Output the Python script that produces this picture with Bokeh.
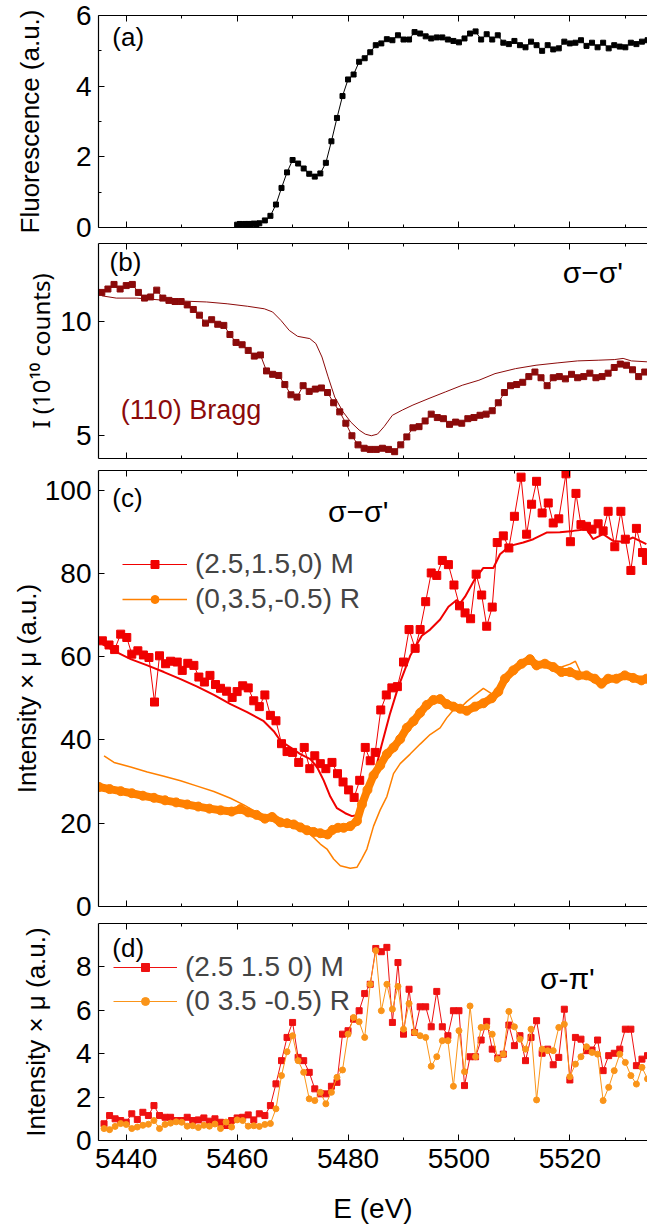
from bokeh.plotting import figure
from bokeh.layouts import column
from bokeh.models import Range1d, LinearAxis, Label, Legend, LegendItem, FixedTicker
from bokeh.embed import file_html
from bokeh.resources import INLINE

FONT = "Liberation Sans"

# ---------------- data ----------------
X_MAJOR = [5440, 5460, 5480, 5500, 5520]
X_MINOR = [5450, 5470, 5490, 5510, 5530]

# (a) fluorescence
A_E = [5460, 5460.5, 5461, 5461.5, 5462, 5462.5, 5463, 5463.5, 5464, 5465, 5466, 5467, 5468, 5469,
       5470, 5471, 5472, 5473, 5474, 5475, 5476, 5477, 5478, 5479, 5480, 5481, 5482, 5483, 5484,
       5485, 5486, 5487, 5488, 5489, 5490, 5491, 5492, 5493, 5494, 5495, 5496, 5497, 5498, 5499,
       5500, 5501, 5502, 5503, 5504, 5505, 5506, 5507, 5508, 5509, 5510, 5511, 5512, 5513, 5514,
       5515, 5516, 5517, 5518, 5519, 5520, 5521, 5522, 5523, 5524, 5525, 5526, 5527, 5528, 5529,
       5530, 5531, 5532, 5533, 5534]
A_F = [0.08, 0.10, 0.09, 0.10, 0.10, 0.10, 0.11, 0.10, 0.12, 0.20, 0.33, 0.65, 1.12, 1.56,
       1.91, 1.81, 1.67, 1.52, 1.44, 1.53, 1.83, 2.44, 3.10, 3.72, 4.19, 4.33, 4.69, 4.79, 4.96,
       5.16, 5.21, 5.33, 5.30, 5.44, 5.32, 5.32, 5.53, 5.49, 5.41, 5.35, 5.38, 5.38, 5.32, 5.28,
       5.24, 5.35, 5.49, 5.55, 5.32, 5.47, 5.32, 5.44, 5.23, 5.19, 5.28, 5.16, 5.10, 5.26, 5.16,
       5.00, 5.16, 5.04, 5.07, 5.26, 5.21, 5.23, 5.30, 5.14, 5.23, 5.10, 5.23, 5.07, 5.16, 5.12,
       5.10, 5.23, 5.19, 5.26, 5.30]

# (b) (110) Bragg, sigma-sigma'
B_E = [5435.6, 5436.7, 5437.8, 5438.9, 5440.0, 5441.1, 5442.2, 5443.3, 5444.4, 5445.5, 5446.6,
       5447.7, 5448.8, 5449.9, 5451.0, 5452.1, 5453.2, 5454.3, 5455.4, 5456.5, 5457.6, 5458.7,
       5459.8, 5460.9, 5462.0, 5463.1, 5464.2, 5465.3, 5466.4, 5467.5, 5468.6, 5469.7, 5470.8,
       5471.9, 5473.0, 5474.1, 5475.2, 5476.3, 5477.4, 5478.5, 5479.6, 5480.7, 5481.8, 5482.9,
       5484.0, 5485.1, 5486.2, 5487.3, 5488.4, 5489.5, 5490.6, 5491.7, 5492.8, 5493.9, 5495.0,
       5496.1, 5497.2, 5498.3, 5499.4, 5500.5, 5501.6, 5502.7, 5503.8, 5504.9, 5506.0, 5507.1,
       5508.2, 5509.3, 5510.4, 5511.5, 5512.6, 5513.7, 5514.8, 5515.9, 5517.0, 5518.1, 5519.2,
       5520.3, 5521.4, 5522.5, 5523.6, 5524.7, 5525.8, 5526.9, 5528.0, 5529.1, 5530.2, 5531.3,
       5532.4, 5533.5]
B_I = [11.30, 11.45, 11.65, 11.45, 11.60, 11.65, 11.30, 11.05, 11.10, 11.40, 11.05,
       10.95, 10.90, 10.90, 10.75, 10.55, 10.30, 9.95, 10.10, 9.90, 9.85, 9.45,
       9.10, 9.00, 8.75, 8.50, 8.55, 7.85, 7.70, 7.65, 7.25, 6.80, 6.70,
       7.20, 6.95, 7.05, 7.10, 6.90, 6.45, 6.05, 5.55, 5.00, 4.60, 4.45,
       4.40, 4.40, 4.45, 4.40, 4.30, 4.60, 4.95, 5.35, 5.40, 5.65, 5.95,
       5.80, 5.75, 5.50, 5.60, 5.55, 5.75, 5.80, 5.90, 5.95, 6.10, 6.45,
       6.90, 7.20, 7.25, 7.35, 7.60, 7.80, 7.55, 7.20, 7.55, 7.60, 7.50,
       7.70, 7.55, 7.60, 7.75, 7.55, 7.60, 7.75, 8.00, 8.15, 8.10, 7.90,
       7.60, 7.80]
B_SIM_E = [5435.6, 5438.2, 5441.9, 5447.1, 5454.5, 5458.2, 5461.9, 5464.9, 5466.4, 5467.9, 5469.4,
           5470.9, 5473.1, 5474.2, 5475.3, 5476.4, 5477.6, 5479.1, 5480.5, 5482.0, 5483.1, 5484.2,
           5485.3, 5486.5, 5488.0, 5489.8, 5491.7, 5494.6, 5497.6, 5500.6, 5503.6, 5506.5, 5510.2,
           5513.9, 5517.7, 5521.4, 5525.1, 5528.1, 5529.6, 5531.1, 5533.9]
B_SIM_I = [11.15, 11.05, 11.05, 10.95, 10.88, 10.80, 10.69, 10.58, 10.44, 10.07, 9.63,
           9.37, 9.27, 9.05, 8.46, 7.59, 6.70, 6.05, 5.60, 5.25, 5.07, 5.00,
           5.07, 5.40, 5.90, 6.13, 6.35, 6.64, 6.93, 7.22, 7.44, 7.73, 7.95,
           8.10, 8.20, 8.29, 8.32, 8.35, 8.40, 8.29, 8.25]

# (c) sigma-sigma', (2.5,1.5,0) M
C_M_E = [5435.7, 5436.9, 5437.9, 5439.0, 5440.1, 5441.0, 5442.1, 5443.1, 5444.1, 5445.1, 5446.0,
         5447.1, 5448.0, 5449.2, 5450.1, 5451.1, 5452.2, 5453.1, 5454.1, 5455.1, 5456.1, 5457.0,
         5458.1, 5459.1, 5460.0, 5461.0, 5462.0, 5463.0, 5464.0, 5465.0, 5466.0, 5467.0, 5468.0,
         5469.0, 5470.0, 5471.1, 5472.1, 5473.1, 5474.0, 5475.0, 5476.0, 5477.1, 5478.1, 5479.1,
         5480.1, 5481.1, 5482.1, 5483.1, 5484.0, 5484.9, 5485.9, 5486.9, 5487.9, 5488.9, 5490.0,
         5491.0, 5492.1, 5493.0, 5494.0, 5495.0, 5496.0, 5497.0, 5498.1, 5499.1, 5500.1, 5501.1,
         5502.1, 5503.1, 5504.1, 5505.0, 5506.0, 5506.9, 5508.0, 5509.0, 5510.0, 5511.2, 5512.2,
         5513.1, 5514.0, 5515.0, 5516.1, 5517.0, 5518.0, 5519.3, 5520.1, 5521.1, 5522.0, 5523.0,
         5524.0, 5525.1, 5526.0, 5526.9, 5528.1, 5529.2, 5530.0, 5531.0, 5532.0, 5533.1, 5533.8]
C_M_I = [63.8, 62.8, 61.7, 65.4, 64.6, 60.6, 61.4, 60.4, 59.8, 49.1, 60.2,
         58.3, 58.9, 58.7, 56.7, 58.4, 57.9, 55.1, 53.9, 55.5, 53.3, 52.4,
         51.7, 50.2, 51.6, 53.0, 52.5, 49.4, 48.0, 50.8, 45.9, 44.6, 39.1,
         37.2, 37.0, 34.6, 38.2, 33.1, 36.2, 34.3, 33.1, 34.6, 31.9, 29.9,
         28.0, 26.2, 30.3, 38.2, 35.0, 37.0, 47.2, 50.8, 52.5, 52.8, 58.7,
         66.5, 62.0, 66.5, 73.2, 80.1, 79.5, 83.1, 82.1, 77.2, 72.2, 70.5,
         69.1, 79.8, 74.8, 67.3, 71.9, 87.4, 89.0, 86.1, 93.7, 103.1, 89.4,
         96.6, 102.1, 94.5, 96.9, 92.1, 93.1, 103.9, 87.6, 99.2, 91.7, 91.3,
         90.6, 91.9, 90.2, 94.9, 86.4, 94.9, 88.2, 80.7, 90.8, 85.0, 83.1]
C_MSIM_E = [5435.7, 5437.8, 5440.8, 5443.8, 5446.8, 5449.8, 5452.8, 5455.8, 5458.8, 5461.8, 5464.8,
            5466.6, 5467.8, 5469.6, 5471.4, 5473.2, 5474.4, 5475.6, 5476.8, 5478.0, 5479.5, 5480.7,
            5481.5, 5483.0, 5484.5, 5486.0, 5487.5, 5489.0, 5491.2, 5493.3, 5494.8, 5496.6, 5498.1,
            5499.6, 5500.2, 5501.1, 5502.9, 5504.4, 5506.2, 5507.4, 5509.2, 5511.6, 5513.4, 5515.8,
            5518.2, 5520.6, 5523.0, 5524.2, 5526.0, 5527.8, 5529.6, 5531.4, 5533.8]
C_MSIM_I = [63.0, 61.4, 59.4, 57.9, 56.3, 54.6, 52.8, 50.8, 48.6, 46.7, 44.5,
            42.1, 39.8, 38.2, 36.6, 35.4, 33.5, 30.3, 26.4, 23.6, 22.4, 21.7,
            21.9, 24.5, 30.5, 38.5, 46.0, 52.5, 60.2, 65.0, 66.5, 68.9, 72.0,
            73.6, 72.8, 74.4, 78.7, 81.3, 81.3, 84.6, 86.6, 87.4, 88.2, 89.8,
            89.9, 90.2, 90.6, 88.2, 89.4, 87.8, 87.6, 88.6, 87.0]
# (c) sigma-sigma', (0,3.5,-0.5) R
C_R_E = [5435.1, 5437.0, 5439.0, 5441.0, 5443.0, 5445.0, 5447.0, 5449.0, 5451.0, 5453.0, 5455.0,
         5457.0, 5459.0, 5460.6, 5462.0, 5463.5, 5465.0, 5466.3, 5467.8, 5469.0, 5470.2, 5471.4,
         5472.6, 5473.8, 5475.0, 5476.3, 5477.2, 5478.2, 5479.2, 5480.4, 5481.6, 5482.5, 5483.5,
         5484.6, 5485.8, 5487.0, 5488.2, 5489.4, 5490.6, 5491.8, 5493.0, 5494.2, 5495.4, 5496.6,
         5497.8, 5499.0, 5500.2, 5501.4, 5502.9, 5504.4, 5505.9, 5507.1, 5508.3, 5509.8, 5511.3,
         5512.8, 5514.0, 5515.5, 5517.0, 5518.5, 5520.0, 5521.5, 5523.0, 5524.5, 5525.7, 5526.9,
         5528.4, 5529.9, 5531.4, 5532.9, 5533.8]
C_R_I = [28.7, 28.2, 27.7, 27.2, 26.6, 26.1, 25.5, 25.0, 24.5, 24.0, 23.5,
         23.1, 22.8, 23.4, 22.6, 22.0, 21.1, 21.5, 20.2, 20.0, 19.7, 19.0,
         18.3, 17.9, 17.6, 17.3, 18.4, 18.9, 18.9, 19.3, 20.5, 24.5, 28.0,
         31.5, 33.9, 36.6, 38.2, 40.2, 42.9, 44.5, 46.5, 48.4, 49.6, 49.8,
         48.6, 48.0, 47.5, 47.0, 48.0, 48.8, 50.0, 51.6, 54.7, 56.7, 58.3,
         59.4, 57.9, 58.3, 57.5, 56.3, 56.3, 55.5, 55.5, 54.7, 53.5, 54.7,
         54.7, 55.5, 54.9, 54.3, 54.7]
C_RSIM_E = [5436.0, 5437.8, 5440.8, 5443.8, 5446.8, 5449.8, 5452.8, 5455.8, 5458.8, 5461.2, 5463.0,
            5465.4, 5469.0, 5472.6, 5475.0, 5476.2, 5477.4, 5478.6, 5480.4, 5481.6, 5482.5, 5483.4,
            5484.6, 5485.8, 5487.0, 5488.2, 5489.4, 5491.2, 5493.0, 5494.8, 5496.6, 5497.8, 5499.0,
            5500.2, 5501.4, 5502.9, 5504.4, 5506.0, 5507.5, 5509.0, 5511.0, 5512.8, 5514.5, 5516.5,
            5518.5, 5520.0, 5521.0, 5522.0, 5524.0, 5526.0, 5528.0, 5530.0, 5532.0, 5533.8]
C_RSIM_I = [36.2, 34.6, 33.5, 32.3, 31.3, 30.2, 28.9, 27.6, 26.0, 24.4, 23.0,
            21.3, 19.7, 18.1, 15.0, 13.8, 11.4, 9.8, 9.2, 9.4, 11.5, 13.8,
            19.3, 23.2, 26.4, 31.9, 34.3, 36.6, 39.0, 41.3, 42.9, 45.3, 47.2,
            47.6, 49.2, 50.8, 52.4, 51.0, 52.5, 55.5, 57.8, 59.2, 58.0, 57.8,
            57.5, 58.2, 58.9, 56.0, 55.0, 54.0, 55.0, 55.5, 54.8, 55.0]

# (d) sigma-pi'
D_E = [5436, 5437, 5438, 5439, 5440, 5441, 5442, 5443, 5444, 5445, 5446, 5447, 5448, 5449,
       5450, 5451, 5452, 5453, 5454, 5455, 5456, 5457, 5458, 5459, 5460, 5461, 5462, 5463,
       5464, 5465, 5466, 5467, 5468, 5469, 5470, 5471, 5472, 5473, 5474, 5475, 5476, 5477,
       5478, 5479, 5480, 5481, 5482, 5483, 5484, 5485, 5486, 5487, 5488, 5489, 5490, 5491,
       5492, 5493, 5494, 5495, 5496, 5497, 5498, 5499, 5500, 5501, 5502, 5503, 5504, 5505,
       5506, 5507, 5508, 5509, 5510, 5511, 5512, 5513, 5514, 5515, 5516, 5517, 5518, 5519,
       5520, 5521, 5522, 5523, 5524, 5525, 5526, 5527, 5528, 5529, 5530, 5531, 5532, 5533, 5534]
D_M = [0.77, 1.15, 1.00, 0.92, 0.84, 1.23, 0.97, 1.30, 1.15, 1.61, 1.15, 1.07, 1.07, 0.92,
       0.92, 1.07, 0.92, 0.95, 1.04, 0.89, 1.00, 0.84, 0.69, 0.92, 1.04, 1.07, 1.18, 0.95,
       1.23, 1.15, 1.61, 2.61, 3.68, 4.75, 5.44, 3.83, 3.68, 3.14, 2.38, 2.15, 2.15, 2.50,
       2.68, 4.90, 5.06, 5.59, 5.98, 6.77, 7.20, 8.85, 8.70, 8.90, 5.44, 8.20, 4.90, 6.97,
       4.98, 6.16, 6.16, 5.24, 6.87, 5.24, 4.83, 5.98, 5.98, 2.53, 3.86, 3.86, 4.63, 5.49,
       4.21, 3.80, 3.98, 5.32, 4.37, 4.83, 3.68, 4.75, 5.52, 4.02, 4.21, 3.49, 3.83, 6.05,
       2.79, 4.75, 4.67, 4.14, 4.17, 4.63, 3.22, 3.91, 4.02, 4.21, 5.13, 5.13, 3.45, 3.75, 3.91]
D_R = [0.55, 0.50, 0.65, 0.78, 0.74, 0.55, 0.62, 0.70, 0.75, 0.92, 0.55, 0.74, 0.80, 0.86,
       0.84, 0.66, 0.68, 0.60, 0.70, 0.66, 0.76, 0.55, 0.85, 0.62, 0.95, 0.92, 0.66, 0.68,
       0.65, 0.74, 0.78, 1.46, 2.99, 4.09, 4.83, 3.68, 3.14, 1.92, 1.84, 2.22, 1.69, 2.22,
       2.91, 3.25, 4.90, 5.67, 5.47, 4.75, 7.20, 8.75, 5.98, 7.20, 6.05, 7.10, 5.13, 6.31,
       4.98, 4.83, 4.75, 3.42, 3.86, 4.60, 4.60, 2.50, 5.06, 3.17, 6.20, 3.86, 5.21, 5.24,
       4.90, 3.75, 3.98, 5.95, 5.24, 4.67, 4.21, 5.13, 1.87, 4.21, 4.14, 4.14, 5.21, 5.36,
       2.94, 3.52, 3.86, 4.32, 4.06, 3.98, 1.84, 2.45, 3.22, 3.98, 3.60, 2.99, 2.60, 3.37, 2.84]

# ---------------- styling helpers ----------------
W = 647


def style_axis(ax, show_labels, size="28px", standoff=7):
    ax.axis_line_color = "black"
    ax.axis_line_width = 1.2
    ax.major_tick_in = 6
    ax.major_tick_out = 0
    ax.minor_tick_in = 3
    ax.minor_tick_out = 0
    ax.major_tick_line_color = "black"
    ax.minor_tick_line_color = "black"
    ax.major_label_text_font = FONT
    if show_labels:
        ax.major_label_text_color = "black"
        ax.major_label_text_font_size = size
        ax.major_label_standoff = standoff
    else:
        ax.major_label_text_color = None
        ax.major_label_text_font_size = "0px"
        ax.major_label_standoff = 0
    ax.axis_label_text_font = FONT
    ax.axis_label_text_font_style = "normal"
    ax.axis_label_text_color = "black"


def make_fig(height, yr, yticks, ylabel, btop, bbot, lab_standoff, show_x=False, yminor=None):
    p = figure(width=W, height=height, x_range=Range1d(5435, 5534), y_range=Range1d(*yr),
               output_backend="svg", toolbar_location=None,
               min_border_left=98, min_border_right=0, min_border_top=btop, min_border_bottom=bbot,
               outline_line_color=None)
    p.grid.visible = False
    bottom = p.below[0]
    left = p.left[0]
    bottom.ticker = FixedTicker(ticks=X_MAJOR, minor_ticks=X_MINOR)
    style_axis(bottom, show_x, "28px", 8)
    top = LinearAxis(ticker=FixedTicker(ticks=X_MAJOR, minor_ticks=X_MINOR))
    style_axis(top, False)
    p.add_layout(top, "above")
    left.ticker = FixedTicker(ticks=yticks, minor_ticks=yminor or [])
    style_axis(left, True, "28px", 7)
    left.axis_label = ylabel
    left.axis_label_text_font_size = "26px"
    left.axis_label_standoff = lab_standoff
    return p, bottom, left


def add_text(p, x, y, text, size="26px", color="black"):
    p.add_layout(Label(x=x, y=y, text=text, text_font=FONT, text_font_size=size,
                       text_color=color, text_baseline="middle", text_align="left"))


# ---------------- (a) ----------------
pa, _, _ = make_fig(242, (0, 6), [0, 2, 4, 6], "Fluorescence (a.u.)", 15, 15, 28, yminor=[1, 3, 5])
pa.line(A_E, A_F, line_color="black", line_width=1)
pa.scatter(A_E, A_F, marker="square", size=5, color="black")
add_text(pa, 5437.5, 5.4, "(a)")

# ---------------- (b) ----------------
BR = "#8B0A0A"
pb, _, left_b = make_fig(222, (4.0, 13.45), [5, 10], "I (10\u00b9\u2070 counts)", 1, 6, 0)
left_b.axis_label_text_font = "Noto Sans"
left_b.axis_label_text_font_size = "24px"
pb.line(B_SIM_E, B_SIM_I, line_color=BR, line_width=1)
pb.line(B_E, B_I, line_color=BR, line_width=1)
pb.scatter(B_E, B_I, marker="square", size=6, color=BR)
add_text(pb, 5437.0, 12.62, "(b)")
add_text(pb, 5518.7, 12.18, "\u03c3\u2212\u03c3'", size="30px")
add_text(pb, 5439.0, 6.13, "(110) Bragg", size="27px", color=BR)

# ---------------- (c) ----------------
RED = "#F00000"
ORG = "#FF8000"
pc, _, _ = make_fig(458, (0, 104.7), [0, 20, 40, 60, 80, 100], "Intensity \u00d7 \u03bc (a.u.)", 6, 16, 0)
pc.line(C_MSIM_E, C_MSIM_I, line_color=RED, line_width=2)
rc_ml = pc.line(C_M_E, C_M_I, line_color=RED, line_width=1)
rc_ms = pc.scatter(C_M_E, C_M_I, marker="square", size=8, color=RED)
pc.line(C_R_E, C_R_I, line_color=ORG, line_width=8, line_join="round")
rc_rs = pc.scatter(C_R_E, C_R_I, marker="circle", size=9, color=ORG)
rc_rl = pc.line(C_RSIM_E, C_RSIM_I, line_color=ORG, line_width=1.5)
add_text(pc, 5437.5, 98.1, "(c)")
add_text(pc, 5476.4, 94.8, "\u03c3\u2212\u03c3'", size="30px")
leg_c = Legend(items=[LegendItem(label="(2.5,1.5,0) M", renderers=[rc_ml, rc_ms]),
                      LegendItem(label="(0,3.5,-0.5) R", renderers=[rc_rl, rc_rs])],
               location=(24, 291), glyph_width=65, glyph_height=20, label_standoff=8,
               label_text_font=FONT, label_text_font_size="28px", spacing=3, padding=0, margin=0,
               border_line_color=None, background_fill_alpha=0)
pc.add_layout(leg_c)

# ---------------- (d) ----------------
RED_D = "#EE1111"
ORG_D = "#FA9419"
pd_, bot_d, _ = make_fig(304, (0, 10.0), [0, 2, 4, 6, 8], "Intensity \u00d7 \u03bc (a.u.)", 1, 86, 22,
                         show_x=True)
bot_d.axis_label = "E (eV)"
bot_d.axis_label_text_font_size = "28px"
bot_d.axis_label_standoff = 22
rd_ml = pd_.line(D_E, D_M, line_color=RED_D, line_width=1)
rd_ms = pd_.scatter(D_E, D_M, marker="square", size=6, color=RED_D)
rd_rl = pd_.line(D_E, D_R, line_color=ORG_D, line_width=1)
rd_rs = pd_.scatter(D_E, D_R, marker="circle", size=6, color=ORG_D)
add_text(pd_, 5437.5, 8.87, "(d)")
add_text(pd_, 5514.6, 7.45, "\u03c3-\u03c0'", size="30px")
leg_d = Legend(items=[LegendItem(label="(2.5 1.5 0) M", renderers=[rd_ml, rd_ms]),
                      LegendItem(label="(0 3.5 -0.5) R", renderers=[rd_rl, rd_rs])],
               location=(15, 123), glyph_width=64, glyph_height=20, label_standoff=8,
               label_text_font=FONT, label_text_font_size="28px", spacing=2, padding=0, margin=0,
               border_line_color=None, background_fill_alpha=0)
pd_.add_layout(leg_d)

layout = column(pa, pb, pc, pd_, spacing=0)
open("out.html", "w").write(file_html(layout, INLINE))
